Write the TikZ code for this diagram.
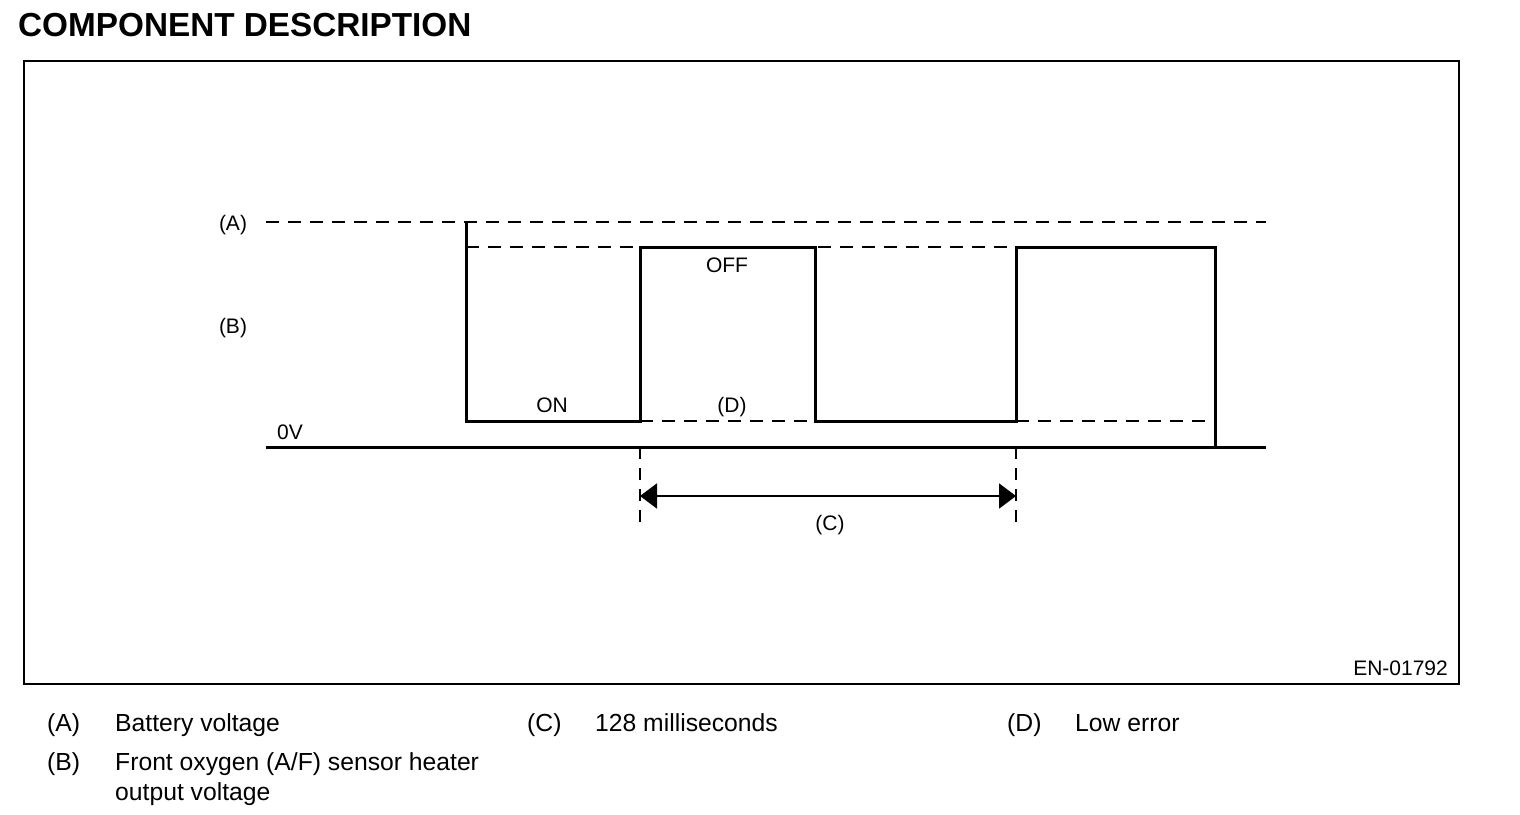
\documentclass[tikz,border=0pt]{standalone}
\usepackage{fontspec}
\setmainfont{Liberation Sans}
\usetikzlibrary{arrows.meta}
\begin{document}
\begin{tikzpicture}[x=1pt,y=-1pt,
  wave/.style={line width=3pt,line join=miter},
  dashline/.style={line width=2.5pt,dash pattern=on 12.5pt off 9.5pt},
  vdash/.style={line width=2pt,dash pattern=on 12pt off 9pt},
  lbl/.style={inner sep=0pt,anchor=base,font=\fontsize{21}{24}\selectfont},
  leg/.style={inner sep=0pt,anchor=base west,font=\fontsize{24.7}{28}\selectfont},
  dimarrow/.style={line width=2pt,{Triangle[length=17pt,width=25pt]}-{Triangle[length=17pt,width=25pt]}}]
\useasboundingbox (0,0) rectangle (1520,814);
% title
\node[inner sep=0pt,anchor=base west,font=\bfseries\fontsize{33.3}{36}\selectfont] (title) at (18,36) {COMPONENT DESCRIPTION};
% frame
\draw[line width=1.5pt] (24,61) rectangle (1459,684);
% reference levels
\coordinate (a1) at (266,222); \coordinate (a2) at (1266,222);
\draw[dashline] (a1) -- (a2);
\coordinate (z1) at (266,447); \coordinate (z2) at (1266,447);
\draw[wave] (z1) -- (z2);
% B-level dashed
\coordinate (b1) at (466,247); \coordinate (b2) at (1016,247);
\draw[dashline] (b1) -- (b2);
% D-level dashed
\coordinate (d1) at (640,421); \coordinate (d2) at (815,421);
\coordinate (d3) at (1016,421); \coordinate (d4) at (1210,421);
\draw[dashline] (d1) -- (d2);
\draw[dashline] (d3) -- (d4);
% waveform
\draw[wave] (466,222) -- (466,421) -- (640,421) -- (640,247) -- (815,247)
  -- (815,421) -- (1016,421) -- (1016,247) -- (1215,247) -- (1215,447);
% period markers
\coordinate (c1t) at (640,447); \coordinate (c1b) at (640,522);
\coordinate (c2t) at (1016,447); \coordinate (c2b) at (1016,522);
\draw[vdash] (c1t) -- (c1b);
\draw[vdash] (c2t) -- (c2b);
\coordinate (p1) at (640,496); \coordinate (p2) at (1016,496);
\draw[dimarrow] (p1) -- (p2);
% diagram labels
\node[lbl] (lA) at (233,230) {(A)};
\node[lbl] (lB) at (233,333) {(B)};
\node[lbl] (lON) at (552,412) {ON};
\node[lbl] (lOFF) at (727,272) {OFF};
\node[lbl] (lD) at (732,412) {(D)};
\node[lbl,anchor=base west] (l0V) at (277,439) {0V};
\node[lbl] (lC) at (830,530) {(C)};
\node[lbl,anchor=base east] (code) at (1448,675) {EN-01792};
% legend
\node[leg] (kA) at (47,731) {(A)};
\node[leg] (tA) at (115,731) {Battery voltage};
\node[leg] (kC) at (527,731) {(C)};
\node[leg] (tC) at (595,731) {128 milliseconds};
\node[leg] (kD) at (1007,731) {(D)};
\node[leg] (tD) at (1075,731) {Low error};
\node[leg] (kB) at (47,770) {(B)};
\node[leg] (tB) at (115,770) {Front oxygen (A/F) sensor heater};
\node[leg] (tB2) at (115,800) {output voltage};
\end{tikzpicture}
\end{document}
